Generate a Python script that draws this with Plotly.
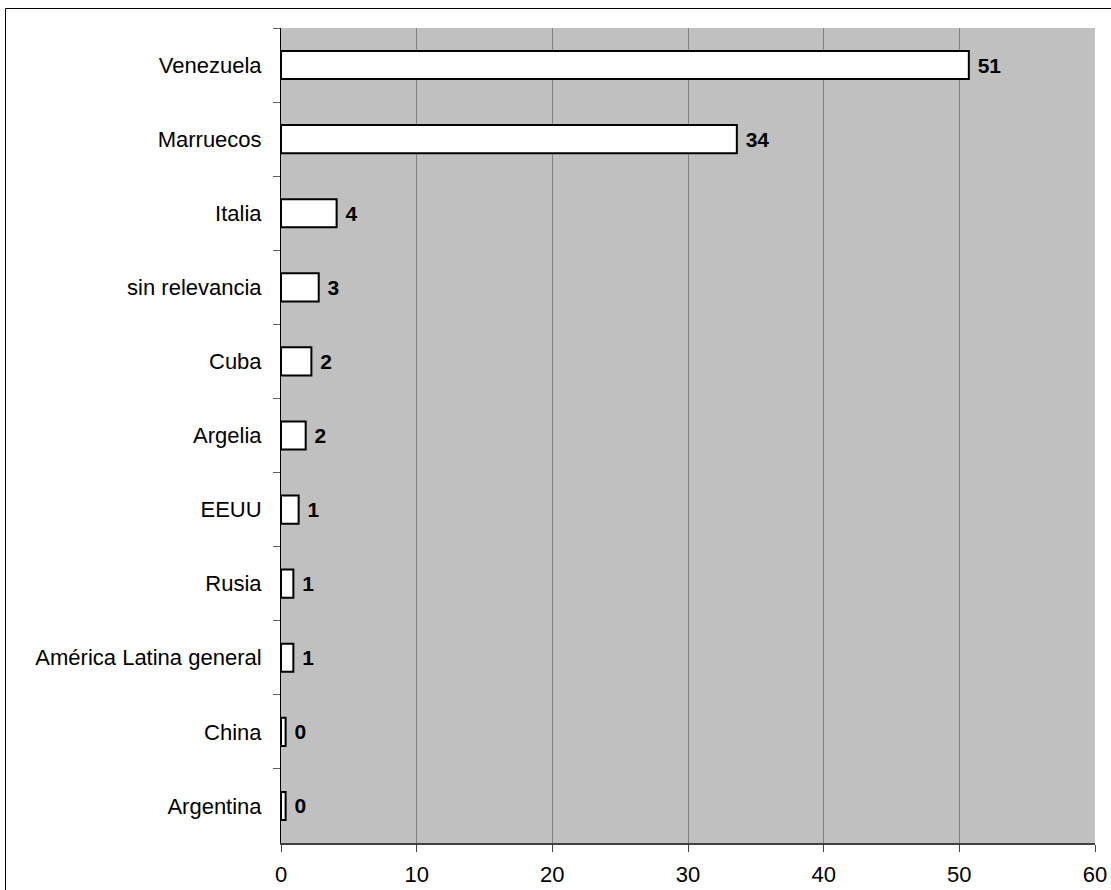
import plotly.graph_objects as go

categories = ["Venezuela", "Marruecos", "Italia", "sin relevancia", "Cuba", "Argelia",
              "EEUU", "Rusia", "América Latina general", "China", "Argentina"]
values = [50.7, 33.6, 4.1, 2.78, 2.24, 1.82, 1.30, 0.91, 0.91, 0.34, 0.34]
x_ticks = [0, 10, 20, 30, 40, 50, 60]

W, H = 1111, 890
L, R, T, B = 281, 16, 28, 47
pw, ph = W - L - R, H - T - B

FONT = "Liberation Sans, Arial, sans-serif"

fig = go.Figure(go.Bar(
    y=categories, x=values, orientation="h",
    marker=dict(color="white", line=dict(color="black", width=2)),
    width=0.38,
    texttemplate=" <b>%{x:.0f}</b>", textposition="outside",
    textfont=dict(family=FONT, size=21, color="black"),
    cliponaxis=False,
))

fig.update_layout(
    width=W, height=H,
    margin=dict(l=L, r=R, t=T, b=B, pad=0),
    paper_bgcolor="white", plot_bgcolor="#C0C0C0",
    font=dict(family=FONT, size=22, color="black"),
    showlegend=False,
    xaxis=dict(range=[0, 60], tickvals=x_ticks, ticks="outside", ticklen=7,
               tickcolor="#404040", showgrid=True, gridcolor="#808080", gridwidth=1,
               showline=True, linecolor="#404040", linewidth=2, zeroline=False,
               tickfont=dict(size=22), ticklabelstandoff=4, automargin=False),
    yaxis=dict(categoryorder="array", categoryarray=categories, autorange="reversed",
               ticks="outside", ticklen=7, tickcolor="#606060", tickson="boundaries",
               showline=True, linecolor="black", linewidth=1, showgrid=False,
               ticklabelstandoff=14, automargin=False),
    shapes=[dict(type="rect", xref="paper", yref="paper",
                 x0=(5.5 - L) / pw, x1=1.2, y0=-0.3, y1=1 + (T - 8.5) / ph,
                 line=dict(color="black", width=1), fillcolor="rgba(0,0,0,0)",
                 layer="below")],
)

fig.write_html("out.html", config={"displayModeBar": False},
               post_script="document.body.style.margin='0';document.body.style.overflow='hidden';")
